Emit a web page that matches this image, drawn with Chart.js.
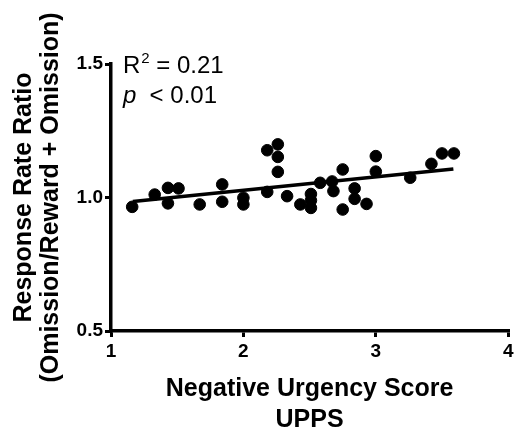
<!DOCTYPE html>
<html>
<head>
<meta charset="utf-8">
<script src="https://cdn.jsdelivr.net/npm/chart.js@4.4.0/dist/chart.umd.min.js"></script>
<style>
  html, body { margin: 0; padding: 0; background: #fff; }
  #wrap { width: 515px; height: 432px; }
</style>
</head>
<body>
<div id="wrap"><canvas id="chart"></canvas></div>
<script>
// UPPS negative urgency vs response rate ratio
const urgency = [1.16, 1.33, 1.43, 1.43, 1.51, 1.67, 1.84, 1.84, 2.0, 2.0,
  2.18, 2.26, 2.26, 2.26, 2.18, 2.33, 2.43, 2.51, 2.51, 2.51,
  2.58, 2.67, 2.68, 2.75, 2.75, 2.84, 2.84, 2.93, 3.0, 3.0,
  3.26, 3.42, 3.5, 3.59];
const ratio = [0.965, 1.011, 1.036, 0.978, 1.034, 0.974, 1.049, 0.984, 0.999, 0.974,
  1.177, 1.199, 1.152, 1.096, 1.021, 1.005, 0.974, 1.013, 0.989, 0.961,
  1.055, 1.060, 1.024, 1.105, 0.955, 1.034, 0.995, 0.976, 1.155, 1.097,
  1.074, 1.126, 1.165, 1.165];
const fitX = [1.165, 3.586];
const fitY = [0.985, 1.107];
const yTicks = [0.5, 1.0, 1.5];
const xTicks = [1, 2, 3, 4];

const font = "'Liberation Sans', Arial, Helvetica, sans-serif";

const statsText = {
  id: "statsText",
  afterDraw(chart) {
    const ctx = chart.ctx;
    const x = chart.scales.x.getPixelForValue(1.09);
    const y1 = chart.scales.y.getPixelForValue(1.465);
    const y2 = chart.scales.y.getPixelForValue(1.355);
    ctx.save();
    ctx.fillStyle = "#000";
    ctx.textBaseline = "alphabetic";
    ctx.font = "24px " + font;
    ctx.fillText("R", x, y1);
    let w = ctx.measureText("R").width;
    ctx.font = "15px " + font;
    ctx.fillText("2", x + w + 1, y1 - 10);
    w += ctx.measureText("2").width + 1;
    ctx.font = "24px " + font;
    ctx.fillText(" = 0.21", x + w, y1);
    ctx.font = "italic 24px " + font;
    ctx.fillText("p", x, y2);
    w = ctx.measureText("p").width;
    ctx.font = "24px " + font;
    ctx.fillText("  < 0.01", x + w, y2);
    ctx.restore();
  }
};

new Chart(document.getElementById("chart"), {
  data: {
    datasets: [
      {
        type: "scatter",
        data: urgency.map((u, i) => ({ x: u, y: ratio[i] })),
        backgroundColor: "#000",
        borderColor: "#000",
        pointRadius: 5.8,
        pointHoverRadius: 5.8
      },
      {
        type: "line",
        data: fitX.map((u, i) => ({ x: u, y: fitY[i] })),
        borderColor: "#000",
        borderWidth: 3.5,
        pointRadius: 0,
        fill: false
      }
    ]
  },
  options: {
    responsive: true,
    maintainAspectRatio: false,
    animation: false,
    events: [],
    layout: { padding: { left: 10, right: 4.5, top: 64, bottom: 0 } },
    plugins: { legend: { display: false }, tooltip: { enabled: false } },
    scales: {
      x: {
        type: "linear",
        min: 1,
        max: 4,
        afterBuildTicks: s => { s.ticks = xTicks.map(v => ({ value: v })); },
        afterFit: s => { s.height = 101; s.paddingLeft = 0; s.paddingRight = 0; },
        border: { display: true, width: 3.5, color: "#000" },
        grid: { display: true, drawOnChartArea: false, drawTicks: true, tickLength: 6, lineWidth: 3, color: "#000" },
        ticks: { color: "#000", padding: 3, font: { family: font, size: 19, weight: "bold" } },
        title: {
          display: true,
          text: ["Negative Urgency Score", "UPPS"],
          color: "#000",
          padding: { top: 8, bottom: -4 },
          font: { family: font, size: 25, weight: "bold", lineHeight: 1.26 }
        }
      },
      y: {
        type: "linear",
        min: 0.5,
        max: 1.5,
        afterBuildTicks: s => { s.ticks = yTicks.map(v => ({ value: v })); },
        afterFit: s => { s.width = 101; },
        border: { display: true, width: 3.5, color: "#000" },
        grid: { display: true, drawOnChartArea: false, drawTicks: true, tickLength: 6, lineWidth: 3, color: "#000" },
        ticks: { color: "#000", padding: 2, callback: v => v.toFixed(1), font: { family: font, size: 19, weight: "bold" } },
        title: {
          display: true,
          text: ["Response Rate Ratio", "(Omission/Reward + Omission)"],
          color: "#000",
          padding: { top: 0, bottom: 4 },
          font: { family: font, size: 25, weight: "bold", lineHeight: 1.1 }
        }
      }
    }
  },
  plugins: [statsText]
});
</script>
</body>
</html>
